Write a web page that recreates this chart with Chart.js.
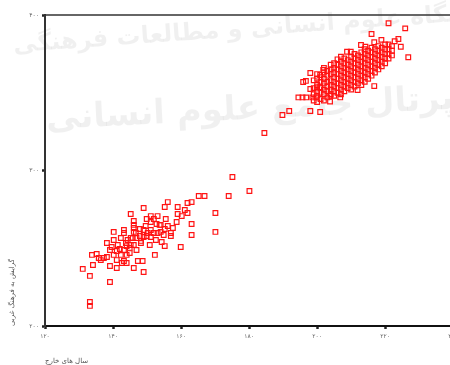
<!DOCTYPE html>
<html>
<head>
<meta charset="utf-8">
<script src="https://cdn.jsdelivr.net/npm/chart.js@4/dist/chart.umd.min.js"></script>
<style>
  html, body { margin: 0; padding: 0; background: #fff; overflow: hidden; }
  #wrap { width: 462px; height: 365px; }
</style>
</head>
<body>
<div id="wrap"><canvas id="c"></canvas></div>
<script>
// Axis ticks (Persian digits)
const xTickValues = [120, 140, 160, 180, 200, 220, 240];
const xTickLabels = ['۱۲۰', '۱۴۰', '۱۶۰', '۱۸۰', '۲۰۰', '۲۲۰', '۲۴۰'];
const yTickValues = [200, 300, 400];
const yTickLabels = ['۲۰۰', '۳۰۰', '۴۰۰'];

const xTitle = 'سال های خارج';
const yTitle = 'گرایش به فرهنگ غربی';

// Lower group of respondents
const lowerX = [180.1,174.0,166.9,165.2,156.1,155.2,163.1,161.9,149.0,159.0,170.1,145.2,159.0,161.1,161.9,160.2,151.1,153.1,149.9,152.0,
  146.1,158.7,163.1,151.1,152.8,153.7,146.1,146.1,143.2,140.2,143.2,146.1,170.1,163.1,155.2,154.0,154.9,157.0,157.0,151.1,
  152.0,153.1,151.1,138.2,140.2,142.3,145.2,146.9,148.2,148.2,159.9,155.2,152.3,148.7,147.3,143.2,141.1,139.1,146.1,149.0,
  131.1,134.1,133.2,139.1,133.2,133.2,133.8,135.2,135.8,136.4,138.2,140.2,141.1,142.0,143.2,144.0,144.9,146.1,146.9,141.1,
  142.3,144.0,144.9,137.3,139.1,147.9,149.0,149.9,150.2,149.0,147.9,145.2,144.3,154.0,155.5,144.0,142.6,145.8,143.8,150.8,
  152.6,154.3,141.4,139.6,149.6,156.1,157.6,146.7,175.1];
const lowerY = [286.8,283.6,283.6,283.6,279.7,276.5,279.7,279.1,275.9,276.5,272.7,272.0,272.0,274.6,272.7,270.7,270.7,270.7,268.8,268.8,
  267.5,266.9,265.6,266.9,265.6,265.0,265.0,263.0,261.7,260.5,259.8,260.5,260.5,258.5,262.4,260.5,258.5,259.8,257.9,261.7,
  259.8,259.8,257.2,253.4,255.3,256.6,256.6,256.6,254.7,253.4,250.8,251.4,245.7,241.8,241.8,241.8,237.3,238.6,237.3,234.7,
  236.7,239.2,232.2,228.3,215.4,212.9,245.7,246.3,243.7,242.4,244.4,245.7,248.2,249.5,248.9,251.4,250.2,252.1,248.9,242.4,
  245.7,245.7,246.9,243.7,248.9,257.9,257.2,257.9,259.8,261.7,262.4,252.1,255.3,265.0,268.8,240.5,240.5,256.6,253.4,252.1,
  255.3,254.0,252.1,250.8,264.3,264.3,263.0,259.8,295.8];

// Upper group of respondents
const upperX = [184.5,189.8,191.8,198.0,200.9,194.5,195.7,196.8,198.6,199.8,195.9,196.7,198.0,200.0,200.9,201.8,200.9,203.9,206.8,203.8,
  206.0,207.0,208.8,209.9,211.9,216.8,212.9,214.2,216.8,218.9,216.0,221.0,225.9,223.9,222.8,224.6,226.8,198.0,
  199,199,199,199,
  200,200,200,200,200,200,
  201,201,201,201,201,
  202,202,202,202,202,202,202,
  203,203,203,203,203,203,
  204,204,204,204,204,204,204,
  205,205,205,205,205,205,205,205,
  206,206,206,206,206,206,206,
  207,207,207,207,207,207,207,207,
  208,208,208,208,208,208,208,208,
  209,209,209,209,209,209,209,
  210,210,210,210,210,210,210,210,
  211,211,211,211,211,211,211,211,
  212,212,212,212,212,212,212,
  213,213,213,213,213,213,213,213,
  214,214,214,214,214,214,214,214,
  215,215,215,215,215,215,215,
  216,216,216,216,216,216,216,
  217,217,217,217,217,217,
  218,218,218,218,218,218,
  219,219,219,219,219,
  220,220,220,220,220,
  221,221,221,221,
  222,222,222];
const upperY = [324.1,335.7,338.3,338.3,337.6,347.0,347.0,347.0,347.0,347.0,356.9,357.6,352.4,353.5,353.5,364.6,361.4,348.1,347.0,344.4,
  371.5,373.2,376.4,376.4,351.8,354.3,380.7,379.6,382.5,384.0,387.8,394.7,391.4,384.6,383.1,379.6,372.8,362.7,
  345,349,353,358,
  344,348,351,355,359,362,
  346,350,353,357,360,
  345,349,352,356,359,363,366,
  347,351,354,357,361,364,
  349,352,355,358,362,365,368,
  348,351,354,357,360,363,366,369,
  350,353,356,359,362,365,368,
  349,352,355,358,361,364,367,370,
  351,354,357,360,363,366,369,372,
  353,356,359,362,365,368,371,
  352,355,358,361,364,367,370,373,
  354,357,360,363,366,369,372,375,
  356,359,362,365,368,371,374,
  355,358,361,364,367,370,373,376,
  357,360,363,366,369,372,375,378,
  359,362,365,368,371,374,377,
  361,364,367,370,373,376,379,
  363,366,369,372,375,378,
  365,368,371,374,377,380,
  367,370,373,376,379,
  369,372,375,378,381,
  372,375,378,381,
  374,377,380];

const allX = lowerX.concat(upperX);
const allY = lowerY.concat(upperY);
const points = allX.map((x, i) => ({ x: x, y: allY[i] }));

// Faint background lettering and the top frame line
const backdrop = {
  id: 'backdrop',
  beforeDatasetsDraw(chart) {
    const ctx = chart.ctx;
    const write = (text, size, cx, cy, angle) => {
      ctx.save();
      ctx.fillStyle = 'rgba(0,0,0,0.06)';
      ctx.textAlign = 'center';
      ctx.textBaseline = 'middle';
      ctx.font = 'bold ' + size + 'px "DejaVu Sans"';
      ctx.translate(cx, cy);
      ctx.rotate(angle);
      ctx.fillText(text, 0, 0);
      ctx.restore();
    };
    write('پژوهشگاه علوم انسانی و مطالعات فرهنگی', 24, 270, 28, -0.07);
    write('پرتال جامع علوم انسانی', 34, 250, 110, -0.05);
  },
  afterDraw(chart) {
    const { ctx, chartArea } = chart;
    ctx.save();
    ctx.strokeStyle = '#333';
    ctx.lineWidth = 1.3;
    ctx.beginPath();
    ctx.moveTo(chartArea.left, chartArea.top);
    ctx.lineTo(chartArea.right + 10, chartArea.top);
    ctx.stroke();
    ctx.restore();
  }
};

const tickFont = { family: '"DejaVu Sans", sans-serif', size: 6 };

new Chart(document.getElementById('c'), {
  type: 'scatter',
  data: {
    datasets: [{
      data: points,
      pointStyle: 'rect',
      radius: 3.3,
      hoverRadius: 3.3,
      borderColor: '#ff1414',
      backgroundColor: 'rgba(0,0,0,0)',
      borderWidth: 1.2
    }]
  },
  options: {
    responsive: true,
    maintainAspectRatio: false,
    animation: false,
    layout: { padding: { top: 15, right: 8, left: 0, bottom: 0 } },
    plugins: { legend: { display: false }, tooltip: { enabled: false } },
    scales: {
      x: {
        type: 'linear',
        min: 120,
        max: 240,
        afterBuildTicks: s => { s.ticks = xTickValues.map(v => ({ value: v })); },
        afterFit: s => { s.height = 39; },
        ticks: {
          callback: v => xTickLabels[xTickValues.indexOf(v)],
          font: tickFont,
          color: '#666',
          padding: 4,
          maxRotation: 0
        },
        grid: { drawOnChartArea: false, drawTicks: true, tickLength: 3, tickWidth: 2.5, tickColor: '#222' },
        border: { color: '#111', width: 2 },
        title: {
          display: true,
          text: xTitle,
          align: 'start',
          color: '#555',
          font: { family: '"DejaVu Sans", sans-serif', size: 7 },
          padding: { top: 0, bottom: 0 }
        }
      },
      y: {
        type: 'linear',
        min: 200,
        max: 400,
        afterBuildTicks: s => { s.ticks = yTickValues.map(v => ({ value: v })); },
        afterFit: s => { s.width = 45; },
        ticks: {
          callback: v => yTickLabels[yTickValues.indexOf(v)],
          font: tickFont,
          color: '#666',
          padding: 3
        },
        grid: { drawOnChartArea: false, drawTicks: true, tickLength: 3, tickWidth: 2.5, tickColor: '#222' },
        border: { color: '#333', width: 2 },
        title: {
          display: true,
          text: yTitle,
          align: 'start',
          color: '#555',
          font: { family: '"DejaVu Sans", sans-serif', size: 7 },
          padding: { top: 8, bottom: 0 }
        }
      }
    }
  },
  plugins: [backdrop]
});
</script>
</body>
</html>
